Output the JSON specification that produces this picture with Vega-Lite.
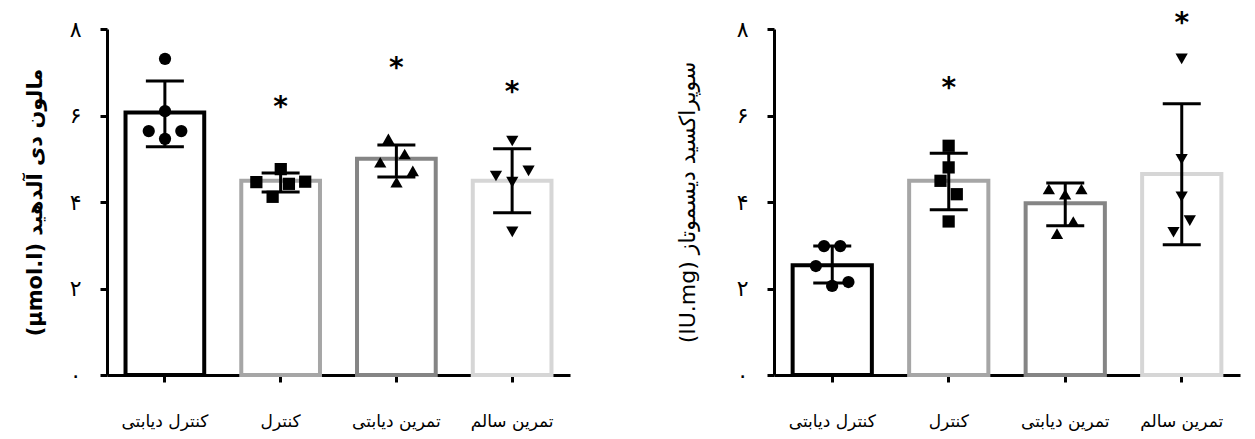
{
  "$schema": "https://vega.github.io/schema/vega-lite/v6.json",
  "background": "white",
  "padding": {"left": 24, "top": 10, "right": 5, "bottom": 5},
  "spacing": 106,
  "config": {
    "font": "DejaVu Sans",
    "view": {"stroke": null},
    "axis": {"domainColor": "black", "tickColor": "black", "labelColor": "black", "titleColor": "black", "grid": false, "domainWidth": 3, "tickWidth": 3, "tickSize": 7}
  },
  "datasets": {
    "mda_summary": [
      {"group": "کنترل دیابتی", "mean": 6.07, "lo": 5.28, "hi": 6.80},
      {"group": "کنترل", "mean": 4.49, "lo": 4.23, "hi": 4.67},
      {"group": "تمرین دیابتی", "mean": 5.0, "lo": 4.58, "hi": 5.32},
      {"group": "تمرین سالم", "mean": 4.49, "lo": 3.75, "hi": 5.23}
    ],
    "mda_points": [
      {"group": "کنترل دیابتی", "lane": 0, "value": 7.31},
      {"group": "کنترل دیابتی", "lane": 0, "value": 6.10},
      {"group": "کنترل دیابتی", "lane": -2, "value": 5.64},
      {"group": "کنترل دیابتی", "lane": 2, "value": 5.64},
      {"group": "کنترل دیابتی", "lane": 0, "value": 5.46},
      {"group": "کنترل", "lane": 0, "value": 4.76},
      {"group": "کنترل", "lane": -3, "value": 4.46},
      {"group": "کنترل", "lane": 3, "value": 4.47},
      {"group": "کنترل", "lane": 1, "value": 4.42},
      {"group": "کنترل", "lane": -1, "value": 4.12},
      {"group": "تمرین دیابتی", "lane": -1, "value": 5.46},
      {"group": "تمرین دیابتی", "lane": 1, "value": 5.11},
      {"group": "تمرین دیابتی", "lane": -2, "value": 4.92},
      {"group": "تمرین دیابتی", "lane": 2, "value": 4.72},
      {"group": "تمرین دیابتی", "lane": 0, "value": 4.46},
      {"group": "تمرین سالم", "lane": 0, "value": 5.41},
      {"group": "تمرین سالم", "lane": -2, "value": 4.60},
      {"group": "تمرین سالم", "lane": 2, "value": 4.72},
      {"group": "تمرین سالم", "lane": 0, "value": 4.46},
      {"group": "تمرین سالم", "lane": 0, "value": 3.31}
    ],
    "mda_stars": [
      {"group": "کنترل", "star": 6.34},
      {"group": "تمرین دیابتی", "star": 7.24},
      {"group": "تمرین سالم", "star": 6.68}
    ],
    "sod_summary": [
      {"group": "کنترل دیابتی", "mean": 2.54, "lo": 2.13, "hi": 2.98},
      {"group": "کنترل", "mean": 4.49, "lo": 3.82, "hi": 5.13},
      {"group": "تمرین دیابتی", "mean": 3.97, "lo": 3.45, "hi": 4.44},
      {"group": "تمرین سالم", "mean": 4.65, "lo": 3.01, "hi": 6.27}
    ],
    "sod_points": [
      {"group": "کنترل دیابتی", "lane": -1, "value": 2.98},
      {"group": "کنترل دیابتی", "lane": 1, "value": 2.98},
      {"group": "کنترل دیابتی", "lane": -2, "value": 2.52},
      {"group": "کنترل دیابتی", "lane": 2, "value": 2.15},
      {"group": "کنترل دیابتی", "lane": 0, "value": 2.06},
      {"group": "کنترل", "lane": 0, "value": 5.30},
      {"group": "کنترل", "lane": 0, "value": 4.80},
      {"group": "کنترل", "lane": -1, "value": 4.49},
      {"group": "کنترل", "lane": 1, "value": 4.18},
      {"group": "کنترل", "lane": 0, "value": 3.55},
      {"group": "تمرین دیابتی", "lane": -2, "value": 4.30},
      {"group": "تمرین دیابتی", "lane": 0, "value": 4.18},
      {"group": "تمرین دیابتی", "lane": 2, "value": 4.30},
      {"group": "تمرین دیابتی", "lane": 1, "value": 3.55},
      {"group": "تمرین دیابتی", "lane": -1, "value": 3.27},
      {"group": "تمرین سالم", "lane": 0, "value": 7.31},
      {"group": "تمرین سالم", "lane": 0, "value": 4.99},
      {"group": "تمرین سالم", "lane": 0, "value": 4.12},
      {"group": "تمرین سالم", "lane": 1, "value": 3.57},
      {"group": "تمرین سالم", "lane": -1, "value": 3.30}
    ],
    "sod_stars": [
      {"group": "کنترل", "star": 6.77},
      {"group": "تمرین سالم", "star": 8.27}
    ]
  },
  "hconcat": [
    {
      "width": 463,
      "height": 346,
      "resolve": {"scale": {"xOffset": "independent"}},
      "encoding": {
        "x": {
          "field": "group", "type": "nominal",
          "sort": ["کنترل دیابتی", "کنترل", "تمرین دیابتی", "تمرین سالم"],
          "scale": {"paddingInner": 0.32, "paddingOuter": 0.16},
          "axis": {"title": null, "labelAngle": 0, "labelFontSize": 17, "labelPadding": 31}
        }
      },
      "layer": [
        {
          "data": {"name": "mda_summary"},
          "mark": {"type": "bar", "fill": "white", "strokeWidth": 4},
          "encoding": {
            "y": {
              "field": "mean", "type": "quantitative",
              "scale": {"domain": [0, 8]},
              "axis": {
                "values": [0, 2, 4, 6, 8],
                "labelExpr": "['۰','۱','۲','۳','۴','۵','۶','۷','۸'][datum.value]",
                "labelFontSize": 22, "labelPadding": 19,
                "title": "(µmol.l) مالون دی آلدهید",
                "titleFontSize": 21, "titleFontWeight": "bold", "titlePadding": 24
              }
            },
            "stroke": {
              "field": "group", "type": "nominal",
              "scale": {"domain": ["کنترل دیابتی", "کنترل", "تمرین دیابتی", "تمرین سالم"], "range": ["#000000", "#a6a6a6", "#858585", "#d6d6d6"]},
              "legend": null
            }
          }
        },
        {
          "data": {"name": "mda_summary"},
          "mark": {"type": "rule", "color": "black", "strokeWidth": 3},
          "encoding": {"y": {"field": "lo", "type": "quantitative"}, "y2": {"field": "hi"}}
        },
        {
          "data": {"name": "mda_summary"},
          "mark": {"type": "tick", "color": "black", "thickness": 3, "size": 38, "opacity": 1},
          "encoding": {"y": {"field": "hi", "type": "quantitative"}}
        },
        {
          "data": {"name": "mda_summary"},
          "mark": {"type": "tick", "color": "black", "thickness": 3, "size": 38, "opacity": 1},
          "encoding": {"y": {"field": "lo", "type": "quantitative"}}
        },
        {
          "data": {"name": "mda_points"},
          "mark": {"type": "point", "filled": true, "color": "black", "opacity": 1, "size": 150},
          "encoding": {
            "y": {"field": "value", "type": "quantitative"},
            "xOffset": {"field": "lane", "type": "ordinal", "scale": {"type": "point", "domain": [-3, -2, -1, 0, 1, 2, 3], "range": [11, 68]}},
            "shape": {"field": "group", "type": "nominal", "scale": {"domain": ["کنترل دیابتی", "کنترل", "تمرین دیابتی", "تمرین سالم"], "range": ["circle", "square", "triangle-up", "triangle-down"]}, "legend": null}
          }
        },
        {
          "data": {"name": "mda_stars"},
          "mark": {"type": "text", "text": "*", "fontSize": 28, "fontWeight": "bold", "dy": 7, "color": "black"},
          "encoding": {"y": {"field": "star", "type": "quantitative"}}
        }
      ]
    },
    {
      "width": 466,
      "height": 346,
      "resolve": {"scale": {"xOffset": "independent"}},
      "encoding": {
        "x": {
          "field": "group", "type": "nominal",
          "sort": ["کنترل دیابتی", "کنترل", "تمرین دیابتی", "تمرین سالم"],
          "scale": {"paddingInner": 0.32, "paddingOuter": 0.16},
          "axis": {"title": null, "labelAngle": 0, "labelFontSize": 17, "labelPadding": 31}
        }
      },
      "layer": [
        {
          "data": {"name": "sod_summary"},
          "mark": {"type": "bar", "fill": "white", "strokeWidth": 4},
          "encoding": {
            "y": {
              "field": "mean", "type": "quantitative",
              "scale": {"domain": [0, 8]},
              "axis": {
                "values": [0, 2, 4, 6, 8],
                "labelExpr": "['۰','۱','۲','۳','۴','۵','۶','۷','۸'][datum.value]",
                "labelFontSize": 22, "labelPadding": 19,
                "title": "(IU.mg)  سوپراکسید دیسموتاز",
                "titleFontSize": 22, "titleFontWeight": "normal", "titlePadding": 37
              }
            },
            "stroke": {
              "field": "group", "type": "nominal",
              "scale": {"domain": ["کنترل دیابتی", "کنترل", "تمرین دیابتی", "تمرین سالم"], "range": ["#000000", "#a6a6a6", "#858585", "#d6d6d6"]},
              "legend": null
            }
          }
        },
        {
          "data": {"name": "sod_summary"},
          "mark": {"type": "rule", "color": "black", "strokeWidth": 3},
          "encoding": {"y": {"field": "lo", "type": "quantitative"}, "y2": {"field": "hi"}}
        },
        {
          "data": {"name": "sod_summary"},
          "mark": {"type": "tick", "color": "black", "thickness": 3, "size": 38, "opacity": 1},
          "encoding": {"y": {"field": "hi", "type": "quantitative"}}
        },
        {
          "data": {"name": "sod_summary"},
          "mark": {"type": "tick", "color": "black", "thickness": 3, "size": 38, "opacity": 1},
          "encoding": {"y": {"field": "lo", "type": "quantitative"}}
        },
        {
          "data": {"name": "sod_points"},
          "mark": {"type": "point", "filled": true, "color": "black", "opacity": 1, "size": 150},
          "encoding": {
            "y": {"field": "value", "type": "quantitative"},
            "xOffset": {"field": "lane", "type": "ordinal", "scale": {"type": "point", "domain": [-3, -2, -1, 0, 1, 2, 3], "range": [11, 68]}},
            "shape": {"field": "group", "type": "nominal", "scale": {"domain": ["کنترل دیابتی", "کنترل", "تمرین دیابتی", "تمرین سالم"], "range": ["circle", "square", "triangle-up", "triangle-down"]}, "legend": null}
          }
        },
        {
          "data": {"name": "sod_stars"},
          "mark": {"type": "text", "text": "*", "fontSize": 28, "fontWeight": "bold", "dy": 7, "color": "black"},
          "encoding": {"y": {"field": "star", "type": "quantitative"}}
        }
      ]
    }
  ]
}
